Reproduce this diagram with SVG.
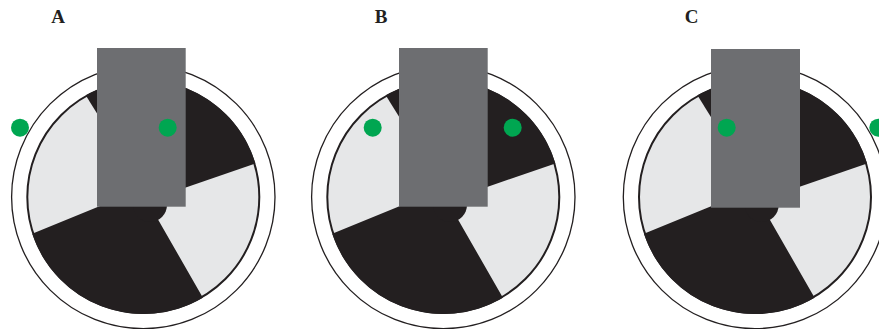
<svg xmlns="http://www.w3.org/2000/svg" xmlns:xlink="http://www.w3.org/1999/xlink" width="879" height="329" viewBox="0 0 879 329">
<style>
.ring{fill:none;stroke:#231f20;stroke-width:1.3}
.disc{fill:#e6e7e8;stroke:#231f20;stroke-width:2}
.dark{fill:#231f20}
.block{fill:#6d6e71}
.dot{fill:#00a651}
.lbl{font-family:"Liberation Serif","Times New Roman",serif;font-size:19px;font-weight:bold;fill:#231f20;text-anchor:middle}
</style>
<defs>
<g id="wheel">
<circle class="ring" cx="0" cy="0" r="131.7"/>
<circle class="disc" cx="0" cy="0" r="116"/>
<path class="dark" d="M-57.6,-101.8 A117,117 0 0 1 112.1,-33.6 L20,-1.75 L-40,-73.6 Z"/>
<path class="dark" d="M59.6,100.7 A117,117 0 0 1 -111.1,36.7 L-20,-0.5 L6.7,8 L15,23 Z"/>
<circle class="dark" cx="6.7" cy="8" r="17"/>
</g>
</defs>
<g id="panel-A">
<use xlink:href="#wheel" href="#wheel" transform="translate(143.3,197)"/>
<rect class="block" x="97" y="48" width="88.7" height="158.7"/>
<circle class="dot" cx="20" cy="127.7" r="9"/>
<circle class="dot" cx="167.7" cy="127.7" r="9"/>
<text class="lbl" x="58" y="22.5">A</text>
</g>
<g id="panel-B">
<use xlink:href="#wheel" href="#wheel" transform="translate(443.3,197)"/>
<rect class="block" x="399" y="48" width="88.7" height="158.7"/>
<circle class="dot" cx="372.7" cy="127.7" r="9"/>
<circle class="dot" cx="512.7" cy="127.7" r="9"/>
<text class="lbl" x="381" y="22.5">B</text>
</g>
<g id="panel-C">
<use xlink:href="#wheel" href="#wheel" transform="translate(755,197)"/>
<rect class="block" x="711" y="49" width="89" height="158.7"/>
<circle class="dot" cx="726.7" cy="127.7" r="9"/>
<circle class="dot" cx="878.3" cy="127.7" r="9"/>
<text class="lbl" x="691.5" y="22.5">C</text>
</g>
<g id="connectors"/>
</svg>
